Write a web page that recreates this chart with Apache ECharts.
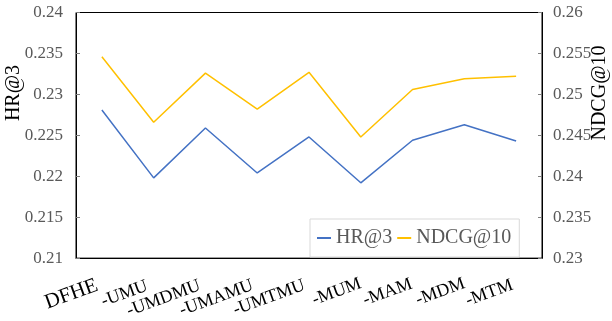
<!DOCTYPE html>
<html>
<head>
<meta charset="utf-8">
<script src="https://cdn.jsdelivr.net/npm/echarts@6/dist/echarts.min.js"></script>
<style>
  html, body { margin: 0; padding: 0; background: #ffffff; }
  #chart { width: 612px; height: 321px; }
</style>
</head>
<body>
<div id="chart"></div>
<script>
// Ablation variants on the category axis
const categories = ['DFHE', '-UMU', '-UMDMU', '-UMAMU', '-UMTMU', '-MUM', '-MAM', '-MDM', '-MTM'];
// HR@3 (left axis)
const hr3 = [0.2281, 0.2198, 0.2259, 0.2204, 0.2248, 0.2192, 0.2244, 0.2263, 0.2243];
// NDCG@10 (right axis)
const ndcg10 = [0.2546, 0.2466, 0.2526, 0.2482, 0.2527, 0.2448, 0.2506, 0.2519, 0.2522];
// Axis ranges
const hrRange = [0.21, 0.24];
const ndcgRange = [0.23, 0.26];
const tickStep = 0.005;

// Per-label placement of the slanted category labels: [top, right, bottom, left] padding
const categoryLabelPadding = [
  [3, 5, 0, 0],
  [0, 7, 5, 0],
  [0, 6, 1, 0],
  [1, 5, 0, 0],
  [0, 5, 0, 0],
  [0, 0, 6, 0],
  [0, 1, 10, 0],
  [0, 0, 13, 0],
  [0, 4, 0, 0]
];

const serif = '"Liberation Serif", "Times New Roman", serif';
const labelGray = '#595959';

const chart = echarts.init(document.getElementById('chart'), null, { renderer: 'canvas' });

const categoryData = categories.map(function (name, i) {
  const style = { padding: categoryLabelPadding[i] };
  if (i === 0) {
    style.fontSize = 21;
  }
  return { value: name, textStyle: style };
});

function valueAxis(range, position) {
  return {
    type: 'value',
    position: position,
    min: range[0],
    max: range[1],
    interval: tickStep,
    splitLine: { show: false },
    axisLine: { show: true, lineStyle: { color: '#000000', width: 1 } },
    axisTick: { show: true, inside: true, length: 4, lineStyle: { color: '#7f7f7f' } },
    axisLabel: {
      show: true,
      margin: position === 'left' ? 13 : 11,
      fontFamily: serif,
      fontSize: 17,
      color: labelGray
    }
  };
}

chart.setOption({
  animation: false,
  backgroundColor: '#ffffff',
  grid: {
    left: 76,
    right: 70,
    top: 12.5,
    bottom: 59,
    show: true,
    borderColor: '#000000',
    borderWidth: 1,
    backgroundColor: 'transparent'
  },
  xAxis: {
    type: 'category',
    data: categoryData,
    boundaryGap: true,
    axisLine: { show: true, lineStyle: { color: '#000000', width: 1 } },
    axisTick: { show: false },
    splitLine: { show: false },
    axisLabel: {
      interval: 0,
      hideOverlap: false,
      rotate: 20,
      margin: 25,
      fontFamily: serif,
      fontSize: 18,
      color: '#000000'
    }
  },
  yAxis: [valueAxis(hrRange, 'left'), valueAxis(ndcgRange, 'right')],
  legend: {
    left: 310,
    top: 219,
    padding: [9, 8, 9, 7],
    itemGap: 5,
    itemWidth: 14,
    itemHeight: 2,
    icon: 'rect',
    borderColor: '#d9d9d9',
    borderWidth: 1,
    backgroundColor: '#ffffff',
    textStyle: { fontFamily: serif, fontSize: 20, color: labelGray },
    data: ['HR@3', 'NDCG@10']
  },
  graphic: [
    {
      type: 'text',
      x: 14,
      y: 93,
      rotation: Math.PI / 2,
      style: {
        text: 'HR@3',
        font: '20px ' + serif,
        fill: '#000000',
        align: 'center',
        verticalAlign: 'middle'
      }
    },
    {
      type: 'text',
      x: 600,
      y: 93,
      rotation: Math.PI / 2,
      style: {
        text: 'NDCG@10',
        font: '20px ' + serif,
        fill: '#000000',
        align: 'center',
        verticalAlign: 'middle'
      }
    }
  ],
  series: [
    {
      name: 'HR@3',
      type: 'line',
      yAxisIndex: 0,
      data: hr3,
      symbol: 'none',
      lineStyle: { color: '#4472C4', width: 1.5 },
      itemStyle: { color: '#4472C4' }
    },
    {
      name: 'NDCG@10',
      type: 'line',
      yAxisIndex: 1,
      data: ndcg10,
      symbol: 'none',
      lineStyle: { color: '#FFC000', width: 1.5 },
      itemStyle: { color: '#FFC000' }
    }
  ]
});
</script>
</body>
</html>
